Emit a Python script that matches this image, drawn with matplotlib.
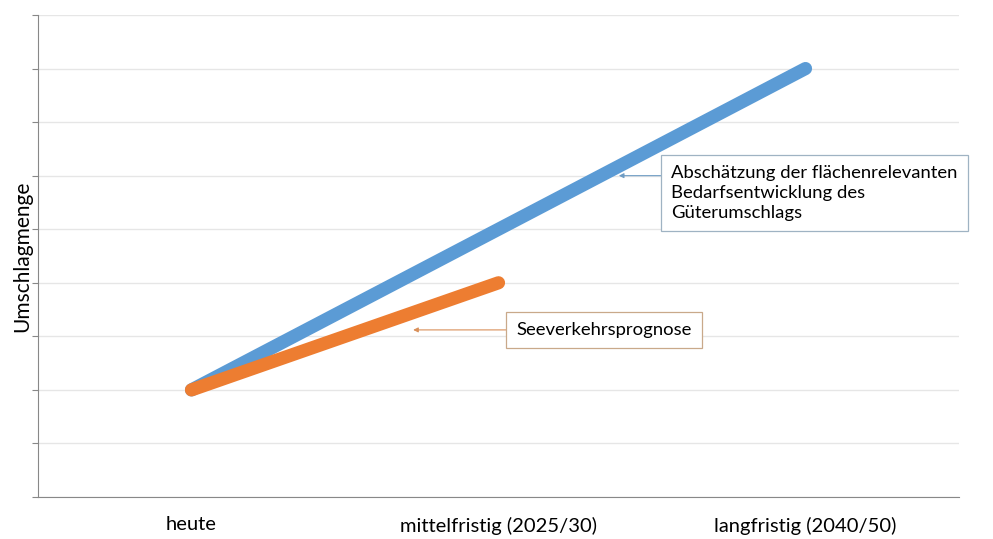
import matplotlib.pyplot as plt

# Kategorien und Werte (relative Einheiten)
categories = ["heute", "mittelfristig (2025/30)", "langfristig (2040/50)"]
bedarf = [2, 5, 8]          # blaue Linie
seeverkehr = [2, 4]         # orange Linie (nur bis mittelfristig)
y_max = 9

blue = "#5b9bd5"
orange = "#ed7d31"

plt.rcParams['font.family'] = ['Lato', 'DejaVu Sans']

fig = plt.figure(figsize=(9.93, 5.39), dpi=100)
ax = fig.add_axes([38/993, 42/539, 921/993, 482/539])

x = list(range(len(categories)))
ax.plot(x, bedarf, color=blue, linewidth=9.5, solid_capstyle='round', zorder=3)
ax.plot(x[:len(seeverkehr)], seeverkehr, color=orange, linewidth=9.5,
        solid_capstyle='round', zorder=4)

ax.set_xlim(-0.5, len(categories) - 0.5)
ax.set_ylim(0, y_max)
ax.set_yticks(range(0, y_max + 1))
ax.set_yticklabels([])
ax.set_xticks(x)
ax.set_xticklabels(categories, fontsize=14.5)
ax.tick_params(axis='x', length=0, pad=14)
ax.tick_params(axis='y', length=4, color='#888888', direction='out')
ax.grid(axis='y', color='#e6e6e6', linewidth=1)
ax.set_axisbelow(True)
for s in ['top', 'right']:
    ax.spines[s].set_visible(False)
for s in ['left', 'bottom']:
    ax.spines[s].set_color('#888888')
ax.set_ylabel("Umschlagmenge", fontsize=15)
ax.yaxis.set_label_coords(-6/921, 0.5)

# Beschriftungen mit Pfeilen
ax.annotate("", xy=(1.392, 6.0), xytext=(1.528, 6.0),
            arrowprops=dict(arrowstyle='-|>', color='#6e9cc4', lw=0.8,
                            mutation_scale=7, shrinkA=0, shrinkB=0))
ax.text(1.562, 5.68, "Abschätzung der flächenrelevanten\nBedarfsentwicklung des\nGüterumschlags",
        fontsize=13.3, ha='left', va='center', linespacing=1.3,
        bbox=dict(boxstyle='square,pad=0.55', facecolor='white', edgecolor='#9fb3c3', lw=0.9))

ax.annotate("", xy=(0.722, 3.12), xytext=(1.024, 3.12),
            arrowprops=dict(arrowstyle='-|>', color='#d9905a', lw=0.8,
                            mutation_scale=7, shrinkA=0, shrinkB=0))
ax.text(1.057, 3.12, "Seeverkehrsprognose",
        fontsize=13.3, ha='left', va='center',
        bbox=dict(boxstyle='square,pad=0.55', facecolor='white', edgecolor='#c9a98a', lw=0.9))

fig.savefig("out.png", dpi=100)
